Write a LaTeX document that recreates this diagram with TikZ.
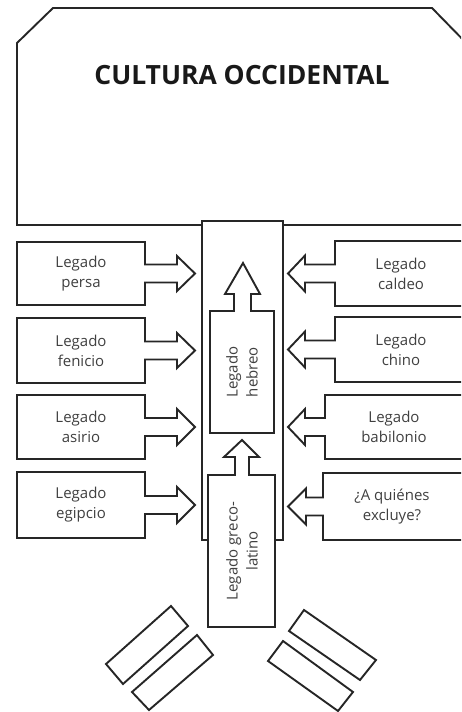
\documentclass[tikz,border=0pt]{standalone}
\usepackage{fontspec}
\setmainfont{Open Sans}
\begin{document}
\begin{tikzpicture}[x=1pt,y=-1pt,
  outl/.style={draw=black!85,line width=1.9pt,line join=miter,fill=white},
  lbl/.style={text=black!75,font=\fontsize{15}{20}\selectfont,align=center,inner sep=0pt},
  titlelbl/.style={text=black!90,font=\bfseries\fontsize{26.5}{30}\selectfont,inner sep=0pt}]
\useasboundingbox (0,0) rectangle (461,712);
\clip (0,0) rectangle (461,712);
% top box
\draw[outl] (17,43) -- (53,8) -- (432,8) -- (475,52) -- (475,225) -- (17,225) -- cycle;
\node[titlelbl] (title) at (242,75) {CULTURA OCCIDENTAL};
% central column
\draw[outl] (202,221) rectangle (283,540);
% hebreo box with up arrow
\draw[outl] (210,311) -- (234,311) -- (234,294) -- (225,294) -- (243,263) -- (260,294) -- (251,294) -- (251,311) -- (274,311) -- (274,433) -- (210,433) -- cycle;
\node[lbl,rotate=90] (hebreo) at (242,372) {Legado\\hebreo};
% greco-latino box with up arrow
\draw[outl] (208,475) -- (235,475) -- (235,457) -- (224,457) -- (242,440) -- (259,457) -- (249,457) -- (249,475) -- (275,475) -- (275,627) -- (208,627) -- cycle;
\node[lbl,rotate=90] (greco) at (242,551) {Legado greco-\\latino};
% left boxes
\draw[outl] (145,264.5) -- (145,242) -- (17,242) -- (17,305) -- (145,305) -- (145,282.5) -- (177,282.5) -- (177,291) -- (195,273.5) -- (177,256) -- (177,264.5) -- cycle;
\node[lbl] (persa) at (81,273.5) {Legado\\persa};
\draw[outl] (145,341.5) -- (145,318) -- (17,318) -- (17,383) -- (145,383) -- (145,359.5) -- (177,359.5) -- (177,368) -- (195,350.5) -- (177,333) -- (177,341.5) -- cycle;
\node[lbl] (fenicio) at (81,350.5) {Legado\\fenicio};
\draw[outl] (145,418) -- (145,395) -- (17,395) -- (17,459) -- (145,459) -- (145,436) -- (177,436) -- (177,445) -- (195,427) -- (177,409) -- (177,418) -- cycle;
\node[lbl] (asirio) at (81,427) {Legado\\asirio};
\draw[outl] (145,496) -- (145,472) -- (17,472) -- (17,538) -- (145,538) -- (145,514) -- (177,514) -- (177,523) -- (195,505) -- (177,487) -- (177,496) -- cycle;
\node[lbl] (egipcio) at (81,505) {Legado\\egipcio};
% right boxes
\draw[outl] (335,264.5) -- (335,241) -- (475,241) -- (475,306) -- (335,306) -- (335,282.5) -- (305,282.5) -- (305,291.5) -- (288,273.5) -- (305,255.5) -- (305,264.5) -- cycle;
\node[lbl] (caldeo) at (401,273.5) {Legado\\caldeo};
\draw[outl] (335,340.5) -- (335,317) -- (475,317) -- (475,382) -- (335,382) -- (335,358.5) -- (305,358.5) -- (305,367.5) -- (288,349.5) -- (305,331.5) -- (305,340.5) -- cycle;
\node[lbl] (chino) at (401,349.5) {Legado\\chino};
\draw[outl] (325,418) -- (325,395) -- (475,395) -- (475,459) -- (325,459) -- (325,436) -- (305,436) -- (305,445) -- (288,427) -- (305,409) -- (305,418) -- cycle;
\node[lbl] (babilonio) at (394,427) {Legado\\babilonio};
\draw[outl] (323,497.5) -- (323,473) -- (475,473) -- (475,540) -- (323,540) -- (323,515.5) -- (306,515.5) -- (306,524.5) -- (288,506.5) -- (306,488.5) -- (306,497.5) -- cycle;
\node[lbl] (excluye) at (392,506.5) {¿A quiénes\\excluye?};
% bottom slabs
\draw[outl] (171,606) -- (188,626) -- (123,684) -- (106,664) -- cycle;
\draw[outl] (197,635) -- (213,655) -- (149,710) -- (132,692) -- cycle;
\draw[outl] (304,610) -- (376,660) -- (360,680) -- (289,631) -- cycle;
\draw[outl] (283,641) -- (353,692) -- (338,711) -- (268,661) -- cycle;
\end{tikzpicture}
\end{document}
